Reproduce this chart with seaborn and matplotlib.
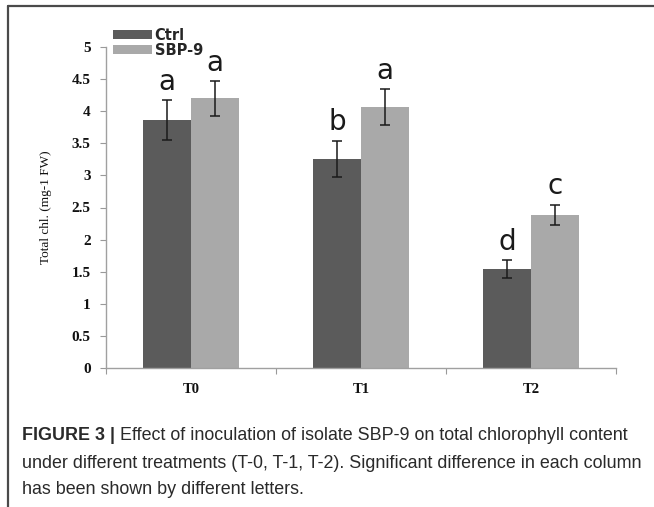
import matplotlib
matplotlib.use("Agg")
import matplotlib.pyplot as plt
import seaborn as sns
import pandas as pd
import numpy as np

# Data
treatments = ["T0", "T1", "T2"]
groups = ["Ctrl", "SBP-9"]
ctrl_vals = [3.86, 3.26, 1.54]
sbp_vals = [4.20, 4.06, 2.38]
ctrl_err = [0.31, 0.28, 0.14]
sbp_err = [0.27, 0.28, 0.16]
ctrl_letters = ["a", "b", "d"]
sbp_letters = ["a", "a", "c"]
yticks = [0, 0.5, 1, 1.5, 2, 2.5, 3, 3.5, 4, 4.5, 5]
ytick_labels = ["0", "0.5", "1", "1.5", "2", "2.5", "3", "3.5", "4", "4.5", "5"]

sns.set_theme(style="white")

df = pd.DataFrame({
    "Treatment": treatments * 2,
    "Group": [groups[0]] * 3 + [groups[1]] * 3,
    "Value": ctrl_vals + sbp_vals,
})

fig = plt.figure(figsize=(6.54, 5.07), dpi=100)
ax = fig.add_axes([106 / 654, 1 - 368 / 507, 510 / 654, 321 / 507])

sns.barplot(data=df, x="Treatment", y="Value", hue="Group", order=treatments,
            hue_order=groups, palette=["#5b5b5b", "#a9a9a9"], width=0.565,
            errorbar=None, saturation=1, linewidth=0, ax=ax)

# Error bars and significance letters placed on the drawn bars
errs = ctrl_err + sbp_err
letters = ctrl_letters + sbp_letters
vals = ctrl_vals + sbp_vals
bars = [p for p in ax.patches if p.get_height() > 0][:6]
for bar, v, e, lt in zip(bars, vals, errs, letters):
    xc = bar.get_x() + bar.get_width() / 2
    ax.errorbar(xc, v, yerr=e, fmt="none", ecolor="#1a1a1a", elinewidth=1.1,
                capsize=3.5, capthick=1.1)
    ax.text(xc, v + e + 0.07, lt, ha="center", va="bottom", fontsize=20,
            color="#1a1a1a", family="DejaVu Sans")

serif = ["Liberation Serif", "DejaVu Serif"]
ax.set_ylim(0, 5)
ax.set_xlim(-0.5, 2.5)
ax.set_yticks(yticks)
ax.set_yticklabels(ytick_labels, family=serif, fontweight="bold",
                   fontsize=11, color="#111111")
ax.set_xticks(range(3))
ax.set_xticklabels(treatments, family=serif, fontweight="bold",
                   fontsize=10.5, color="#111111")
ax.set_xticks([-0.5, 0.5, 1.5, 2.5], minor=True)
ax.tick_params(axis="x", which="major", length=0, pad=11)
ax.tick_params(axis="x", which="minor", length=4, width=0.8, color="#999999",
               direction="out", bottom=True)
ax.tick_params(axis="y", which="major", length=4, width=0.8, color="#999999",
               direction="out", left=True, pad=7)
ax.set_xlabel("")
ax.set_ylabel("Total chl. (mg-1 FW)", family=serif, fontsize=9.5,
              color="#111111", labelpad=14)
for s in ["top", "right"]:
    ax.spines[s].set_visible(False)
for s in ["left", "bottom"]:
    ax.spines[s].set_color("#a0a0a0")
    ax.spines[s].set_linewidth(1.0)

leg = ax.legend(loc="upper left", bbox_to_anchor=(113 / 654, 1 - 28 / 507),
                bbox_transform=fig.transFigure, frameon=False,
                prop={"family": "DejaVu Sans", "weight": "bold", "size": 10.5},
                handlelength=2.7, handleheight=0.6, handletextpad=0.15,
                labelspacing=0.0, borderpad=0, borderaxespad=0)

# Outer frame lines
fig.add_artist(plt.Line2D([8 / 654, 8 / 654], [0, 1 - 6 / 507],
                          transform=fig.transFigure, color="#4a4a4a", lw=1.6))
fig.add_artist(plt.Line2D([8 / 654, 1], [1 - 6 / 507, 1 - 6 / 507],
                          transform=fig.transFigure, color="#4a4a4a", lw=1.6))

# Caption
cap_font = ["Liberation Sans Narrow", "Liberation Sans", "DejaVu Sans"]
cap_size = 12.9
cap_color = "#2a2a2a"
renderer = fig.canvas.get_renderer()
y1 = 1 - 436 / 507
head = fig.text(22 / 654, y1, "FIGURE 3 |", family=cap_font, fontweight="bold",
                fontsize=cap_size, color=cap_color, va="center")
bb = head.get_window_extent(renderer=renderer)
fig.text((bb.x1 + 5) / 654, y1,
         "Effect of inoculation of isolate SBP-9 on total chlorophyll content",
         family=cap_font, fontsize=cap_size, color=cap_color, va="center")
fig.text(22 / 654, 1 - 463 / 507,
         "under different treatments (T-0, T-1, T-2). Significant difference in each column",
         family=cap_font, fontsize=cap_size, color=cap_color, va="center")
fig.text(22 / 654, 1 - 490 / 507,
         "has been shown by different letters.",
         family=cap_font, fontsize=cap_size, color=cap_color, va="center")

fig.savefig("out.png", dpi=100)
